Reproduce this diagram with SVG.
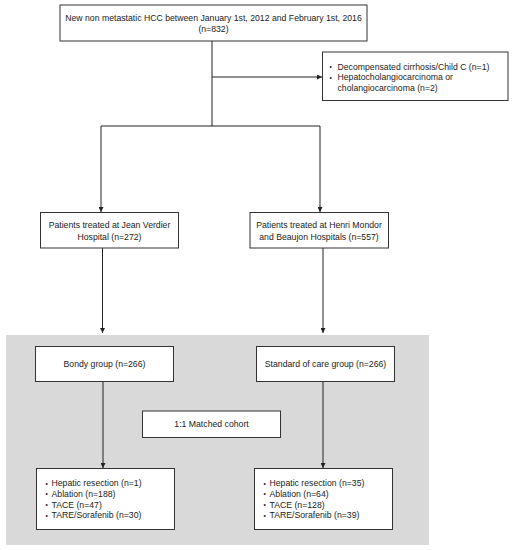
<svg xmlns="http://www.w3.org/2000/svg" width="512" height="550" viewBox="0 0 512 550">
<defs>
<style>
.box{fill:#fff;stroke:#333;stroke-width:1}
.t{font-family:"Liberation Sans",Arial,sans-serif;font-size:8.7px;fill:#222}
.b{font-size:6.5px}
.m{text-anchor:middle}
.ln{fill:none;stroke:#222;stroke-width:1}
</style>
<marker id="ah" viewBox="0 0 10 10" refX="10" refY="5" markerWidth="5" markerHeight="5" orient="auto" markerUnits="userSpaceOnUse">
<path d="M0,0L10,5L0,10z" fill="#222"/>
</marker>
</defs>
<rect x="6" y="335" width="423" height="210" fill="#d9d9d9"/>
<g id="connectors">
<path class="ln" d="M212,41V126"/>
<path class="ln" d="M212,77H322" marker-end="url(#ah)"/>
<path class="ln" d="M101,126H320"/>
<path class="ln" d="M101,126V212" marker-end="url(#ah)"/>
<path class="ln" d="M320,126V212" marker-end="url(#ah)"/>
<path class="ln" d="M102.5,248V333" marker-end="url(#ah)"/>
<path class="ln" d="M323,248V333" marker-end="url(#ah)"/>
<path class="ln" d="M103,382V468" marker-end="url(#ah)"/>
<path class="ln" d="M323,382V468" marker-end="url(#ah)"/>
</g>
<g id="top">
<rect class="box" x="60" y="5" width="307" height="36"/>
<text class="t m" x="213.5" y="20.5">New non metastatic HCC between January 1st, 2012 and February 1st, 2016</text>
<text class="t m" x="213.5" y="32">(n=832)</text>
</g>
<g id="excluded">
<rect class="box" x="322.5" y="52" width="185.5" height="48.5"/>
<text class="t b" x="329.5" y="69">•</text><text class="t" x="337.5" y="69.5">Decompensated cirrhosis/Child C (n=1)</text>
<text class="t b" x="329.5" y="79.5">•</text><text class="t" x="337.5" y="80">Hepatocholangiocarcinoma or</text>
<text class="t" x="337.5" y="91">cholangiocarcinoma (n=2)</text>
</g>
<g id="jeanverdier">
<rect class="box" x="40.5" y="212.5" width="138" height="35.5"/>
<text class="t m" x="109.5" y="228">Patients treated at Jean Verdier</text>
<text class="t m" x="109.5" y="239.5">Hospital (n=272)</text>
</g>
<g id="henrimondor">
<rect class="box" x="250" y="212.5" width="138.5" height="35.5"/>
<text class="t m" x="319" y="228">Patients treated at Henri Mondor</text>
<text class="t m" x="319" y="239.5">and Beaujon Hospitals (n=557)</text>
</g>
<g id="bondy">
<rect class="box" x="35.5" y="346.5" width="138" height="35"/>
<text class="t m" x="104.5" y="367">Bondy group (n=266)</text>
</g>
<g id="standard">
<rect class="box" x="256.5" y="346.5" width="138" height="35"/>
<text class="t m" x="325.5" y="367">Standard of care group (n=266)</text>
</g>
<g id="matched">
<rect class="box" x="142.5" y="411" width="138" height="26.5"/>
<text class="t m" x="211.5" y="427">1:1 Matched cohort</text>
</g>
<g id="bondy-treat">
<rect class="box" x="36.5" y="468.5" width="138" height="61"/>
<text class="t b" x="45.5" y="485.5">•</text><text class="t" x="51.5" y="486">Hepatic resection (n=1)</text>
<text class="t b" x="45.5" y="496.3">•</text><text class="t" x="51.5" y="496.8">Ablation (n=188)</text>
<text class="t b" x="45.5" y="507.1">•</text><text class="t" x="51.5" y="507.6">TACE (n=47)</text>
<text class="t b" x="45.5" y="517.9">•</text><text class="t" x="51.5" y="518.4">TARE/Sorafenib (n=30)</text>
</g>
<g id="standard-treat">
<rect class="box" x="254.5" y="468.5" width="138" height="61"/>
<text class="t b" x="263.5" y="485.5">•</text><text class="t" x="269.5" y="486">Hepatic resection (n=35)</text>
<text class="t b" x="263.5" y="496.3">•</text><text class="t" x="269.5" y="496.8">Ablation (n=64)</text>
<text class="t b" x="263.5" y="507.1">•</text><text class="t" x="269.5" y="507.6">TACE (n=128)</text>
<text class="t b" x="263.5" y="517.9">•</text><text class="t" x="269.5" y="518.4">TARE/Sorafenib (n=39)</text>
</g>
</svg>
